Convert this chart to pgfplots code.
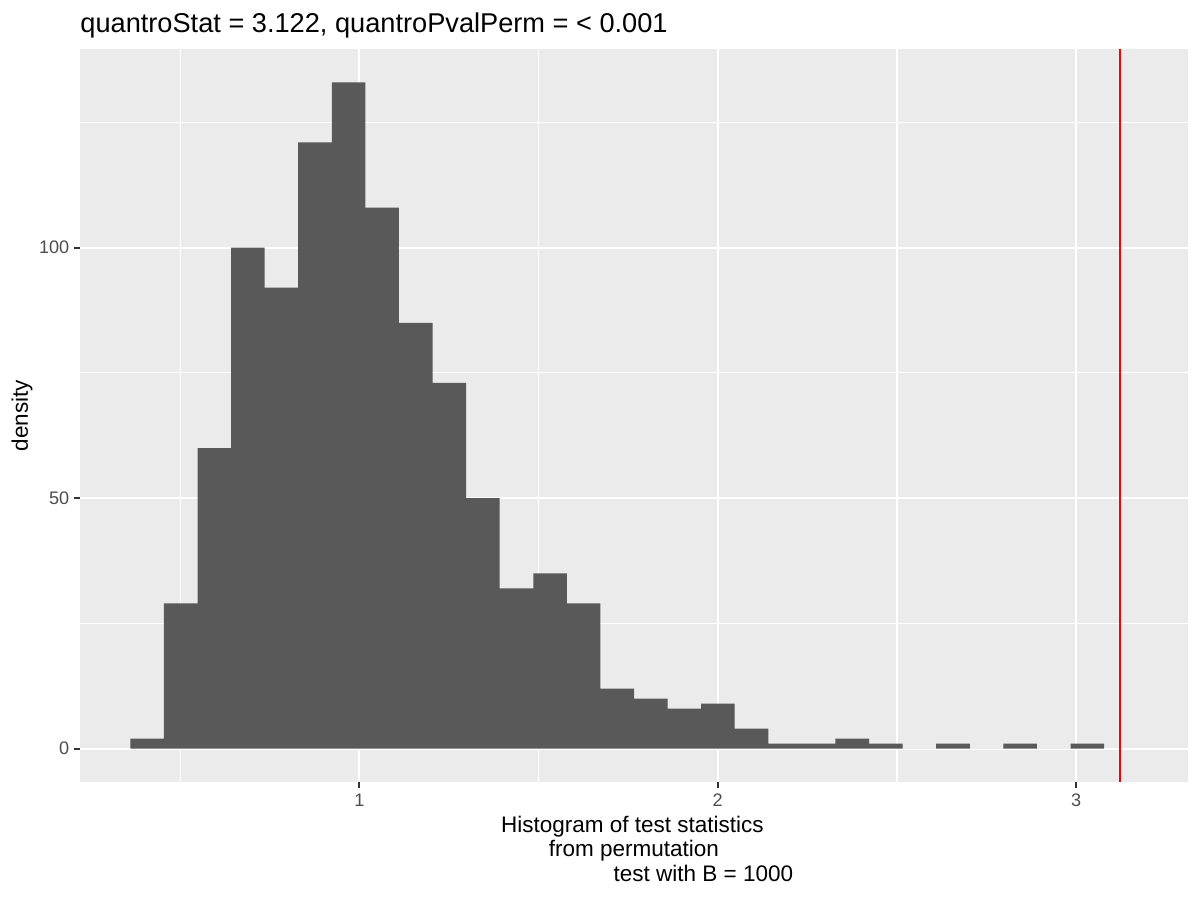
\documentclass[border=0pt]{standalone}
\usepackage{fontspec}
\setmainfont{Liberation Sans}
\usepackage{pgfplots}
\usepackage{pgfplotstable}
\pgfplotsset{compat=1.18}

\definecolor{panelbg}{HTML}{EBEBEB}
\definecolor{barfill}{HTML}{595959}
\definecolor{ticklab}{HTML}{4D4D4D}
\definecolor{tickcol}{HTML}{333333}

% histogram of permutation statistics: left bin edge, count
% (last row only closes the final bin)
\pgfplotstableread{
edge   count
0.3614 2
0.4551 29
0.5487 60
0.6424 100
0.7360 92
0.8297 121
0.9234 133
1.0170 108
1.1107 85
1.2043 73
1.2980 50
1.3917 32
1.4853 35
1.5790 29
1.6726 12
1.7663 10
1.8600 8
1.9536 9
2.0473 4
2.1409 1
2.2346 1
2.3283 2
2.4219 1
2.5156 0
2.6092 1
2.7029 0
2.7966 1
2.8902 0
2.9839 1
3.0775 0
}\histdata

\begin{document}
\begin{tikzpicture}
\useasboundingbox (0,0) rectangle (576bp,432bp);
\begin{axis}[
    at={(38.4bp,56.64bp)}, anchor=south west,
    scale only axis,
    width=531.84bp, height=351.84bp,
    xmin=0.2209, xmax=3.3117,
    ymin=-6.65, ymax=139.65,
    axis background/.style={fill=panelbg},
    axis line style={draw=none},
    xtick={1,2,3}, ytick={0,50,100},
    minor xtick={0.5,1.5,2.5}, minor ytick={25,75,125},
    xtick pos=bottom, ytick pos=left,
    tick align=outside,
    major tick length=2.75bp, minor tick length=0pt,
    tick style={color=tickcol, line width=1.07bp},
    grid=both,
    major grid style={white, line width=1.07bp},
    minor grid style={white, line width=0.53bp},
    /pgf/number format/assume math mode=true,
    ticklabel style={font=\fontsize{8.7bp}{10bp}\selectfont, text=ticklab, inner sep=0pt},
    xticklabel style={anchor=north, yshift=-2.6bp},
    yticklabel style={anchor=east, xshift=-2.2bp},
    clip=true,
]
\addplot[ybar interval, fill=barfill, draw=none] table[x=edge, y=count] {\histdata};
\addplot[red, line width=1.07bp] coordinates {(3.122,-6.65) (3.122,139.65)};
\end{axis}
% title and axis titles
\node[anchor=base west, inner sep=0pt, font=\fontsize{13.05bp}{15bp}\selectfont] at (38.4bp,416.2bp) {quantroStat = 3.122, quantroPvalPerm = < 0.001};
\node[rotate=90, inner sep=0pt, font=\fontsize{10.8bp}{13bp}\selectfont] at (10.6bp,232.6bp) {density};
\node[anchor=base, inner sep=0pt, font=\fontsize{10.8bp}{13bp}\selectfont] at (303.5bp,32.5bp) {Histogram of test statistics};
\node[anchor=base, inner sep=0pt, font=\fontsize{10.8bp}{13bp}\selectfont] at (304.3bp,20.8bp) {from permutation};
\node[anchor=base, inner sep=0pt, font=\fontsize{10.8bp}{13bp}\selectfont] at (337.6bp,9.1bp) {test with B = 1000};
\end{tikzpicture}
\end{document}
